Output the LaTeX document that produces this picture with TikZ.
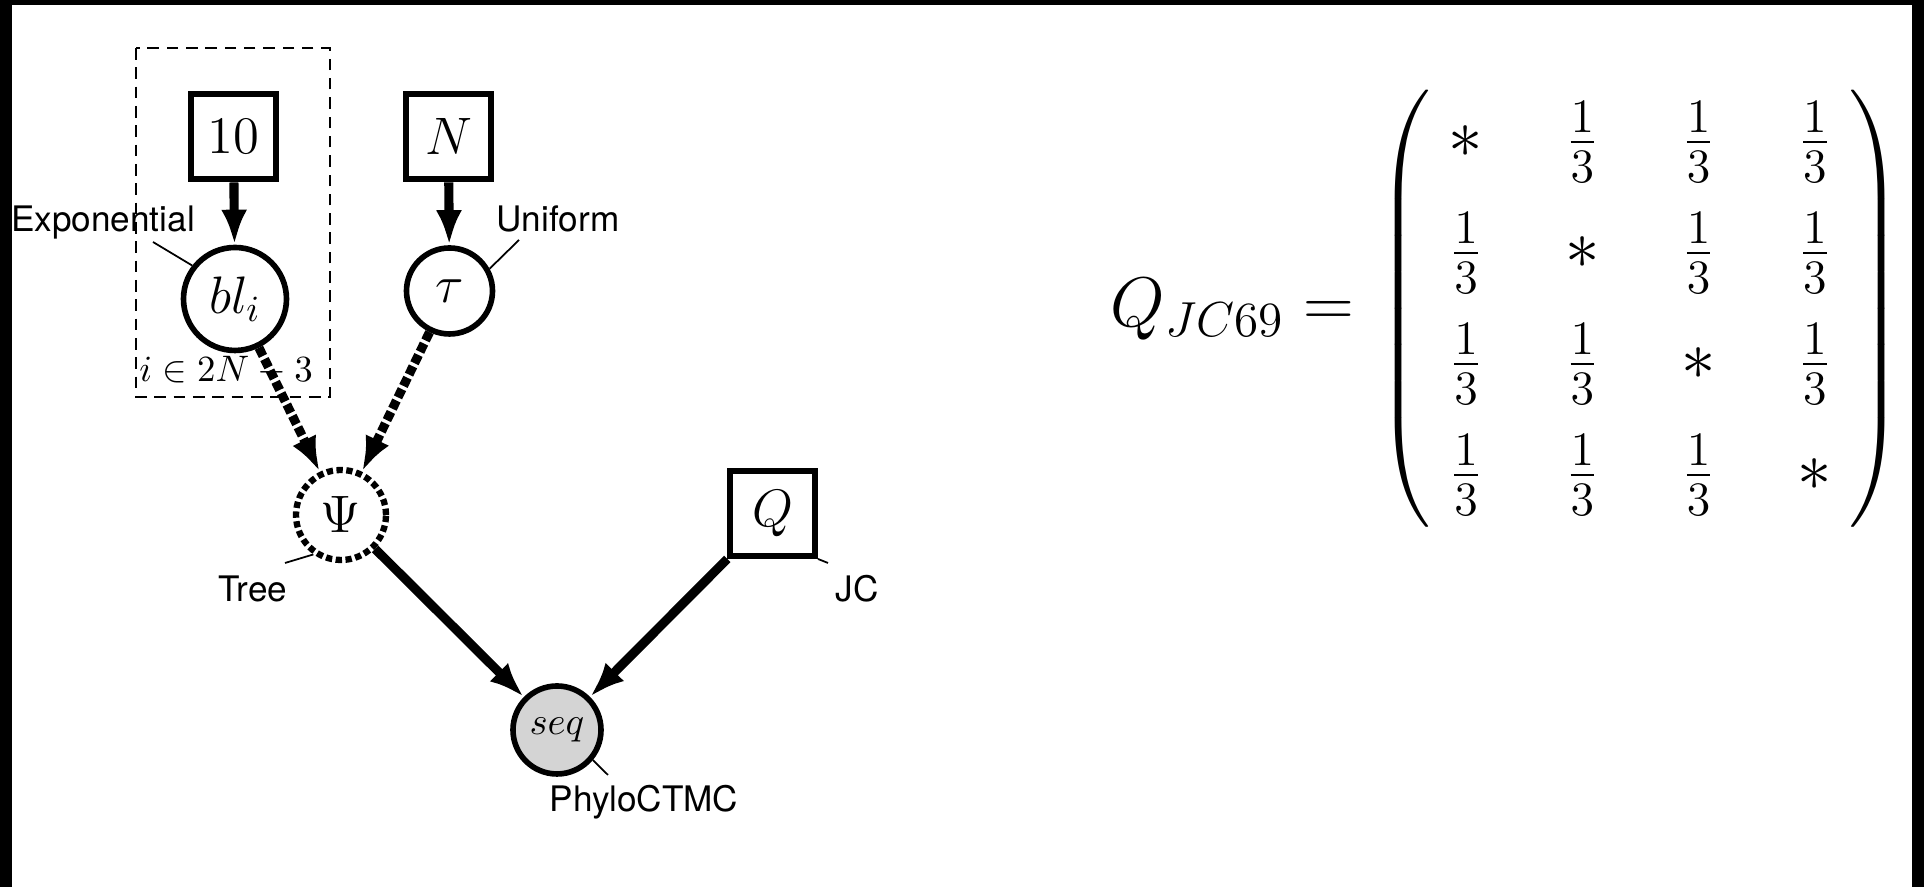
\documentclass[tikz,border=0pt]{standalone}
\usepackage{fix-cm}
\usepackage{amsmath}
\usepackage[no-math]{fontspec}
\newfontfamily\helv{TeX Gyre Heros}
\usetikzlibrary{arrows.meta,matrix}

\begin{document}
\begin{tikzpicture}[
    latent/.style={circle, draw, line width=1.6pt, inner sep=1pt, font=\fontsize{15}{18}\selectfont},
    const/.style={rectangle, draw, line width=1.7pt, minimum size=0.85cm, inner sep=1pt, font=\fontsize{15}{18}\selectfont},
    dist/.style={font=\helv\fontsize{10}{12}\selectfont, anchor=base, inner sep=0pt},
    pinline/.style={line width=0.5pt},
    edgearrow/.style={line width=2.6pt, -{Latex[length=0.35cm,width=0.26cm]}},
    detarrow/.style={edgearrow, densely dotted},
    every delimiter/.style={inner sep=0pt, font=\fontsize{19}{23}\selectfont},
  ]
  \useasboundingbox (0,0) rectangle (19.24,8.87);
  % frame
  \fill[black] (0,0) rectangle (19.24,8.87);
  \fill[white] (0.12,0) rectangle (19.12,8.82);

  % plate
  \draw[line width=0.8pt, dash pattern=on 3.3pt off 2.2pt] (1.36,8.39) rectangle (3.30,4.90);
  \node[anchor=base, inner sep=0pt, font=\fontsize{10.5}{12}\selectfont] (platelbl) at (2.26,5.05) {$i \in 2N-3$};

  % graph nodes
  \node[const] (ten) at (2.335,7.50) {$10$};
  \node[const] (nn) at (4.485,7.50) {$N$};
  \node[latent, minimum size=1.03cm] (bl) at (2.35,5.88) {$bl_i$};
  \node[latent, minimum size=0.86cm] (tau) at (4.495,5.96) {$\tau$};
  \node[latent, minimum size=0.9cm, line width=1.8pt, densely dotted] (psi) at (3.41,3.72) {$\Psi$};
  \node[const] (qq) at (7.725,3.735) {$Q$};
  \node[latent, minimum size=0.88cm, fill=black!17, font=\fontsize{11}{13}\selectfont] (seq) at (5.57,1.57) {$seq$};

  % distribution labels
  \node[dist] (explbl) at (1.03,6.55) {Exponential};
  \node[dist] (uniflbl) at (5.58,6.55) {Uniform};
  \node[dist] (treelbl) at (2.53,2.85) {Tree};
  \node[dist] (jclbl) at (8.57,2.85) {JC};
  \node[dist] (ctmclbl) at (6.44,0.75) {PhyloCTMC};
  \coordinate (expend) at (1.53,6.45);
  \coordinate (unifend) at (5.19,6.47);
  \coordinate (treeend) at (2.85,3.24);
  \coordinate (jcend) at (8.28,3.24);
  \coordinate (ctmcend) at (6.08,1.12);
  \draw[pinline] (bl.142) -- (expend);
  \draw[pinline] (tau.29) -- (unifend);
  \draw[pinline] (psi.235) -- (treeend);
  \draw[pinline] (qq.south east) -- (jcend);
  \draw[pinline] (seq.-40) -- (ctmcend);

  % edges
  \draw[edgearrow] (ten) -- (bl);
  \draw[edgearrow] (nn) -- (tau);
  \draw[detarrow] (bl) -- (psi);
  \draw[detarrow] (tau) -- (psi);
  \draw[edgearrow] (psi) -- (seq);
  \draw[edgearrow] (qq) -- (seq);

  % rate matrix
  \node[anchor=east, inner sep=0pt, font=\fontsize{20}{24}\selectfont] (qlhs) at (13.55,5.78) {$Q_{JC69} =$};
  \matrix (qmat) [matrix of math nodes, inner sep=0pt, left delimiter=(, right delimiter=),
      nodes={minimum width=0.6cm, minimum height=1.11cm, inner sep=0pt, anchor=center, font=\fontsize{19.5}{23}\selectfont},
      column sep=0.563cm, row sep=0cm] at (16.405,5.785) {
    \ast & \frac{1}{3} & \frac{1}{3} & \frac{1}{3} \\
    \frac{1}{3} & \ast & \frac{1}{3} & \frac{1}{3} \\
    \frac{1}{3} & \frac{1}{3} & \ast & \frac{1}{3} \\
    \frac{1}{3} & \frac{1}{3} & \frac{1}{3} & \ast \\
  };
\end{tikzpicture}
\end{document}
